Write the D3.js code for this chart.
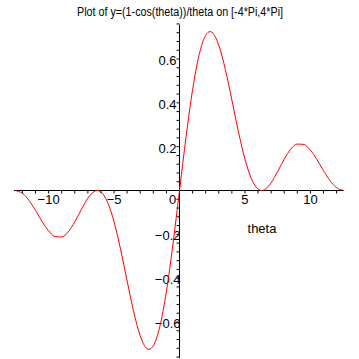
<!DOCTYPE html>
<html>
<head>
<meta charset="utf-8">
<script src="https://cdn.jsdelivr.net/npm/d3@7"></script>
<style>
  body { margin: 0; background: #fff; }
  text { font-family: "Liberation Sans Narrow", "Liberation Sans", Arial, sans-serif; fill: #000; }
</style>
</head>
<body>
<div class="box"></div>
<script>
const titleText = "Plot of y=(1-cos(theta))/theta on [-4*Pi,4*Pi]"
const xAxisLabel = "theta"

// values
const thetas = [-12.566, -12, -11.5, -11, -10.5, -10, -9.5, -9, -8.5, -8, -7.5, -7, -6.5, -6.28, -6, -5.5, -5, -4.5, -4, -3.5, -3, -2.5, -2.33, -2, -1.5, -1, -0.5, -0.25,
                0, 0.25, 0.5, 1, 1.5, 2, 2.33, 2.5, 3, 3.5, 4, 4.5, 5, 5.5, 6, 6.28, 6.5, 7, 7.5, 8, 8.5, 9, 9.5, 10, 10.5, 11, 11.5, 12, 12.566]
const yValues = [0, -0.013, -0.045, -0.091, -0.141, -0.184, -0.210, -0.212, -0.189, -0.143, -0.087, -0.035, -0.004, 0, -0.007, -0.053, -0.143, -0.269, -0.413, -0.553, -0.663, -0.721, -0.725, -0.708, -0.620, -0.460, -0.245, -0.124,
                 0, 0.124, 0.245, 0.460, 0.620, 0.708, 0.725, 0.721, 0.663, 0.553, 0.413, 0.269, 0.143, 0.053, 0.007, 0, 0.004, 0.035, 0.087, 0.143, 0.189, 0.212, 0.210, 0.184, 0.141, 0.091, 0.045, 0.013, 0]

const xMinorTicks = d3.range(-12, 13, 1)
const xLabels = [-10, -5, 5, 10]
const yMinorTicks = d3.range(-0.76, 0.77, 0.04)
const yLabels = [-0.6, -0.4, -0.2, 0.2, 0.4, 0.6]

const boxWidth = 359
const boxHeight = 359

const x = d3.scaleLinear().domain([-4 * Math.PI, 4 * Math.PI]).range([15, 344])
const y = d3.scaleLinear().domain([-0.7246, 0.7246]).range([349.3, 31.7])

const svg = d3.select('.box')
              .append('svg')
              .attr('width', boxWidth)
              .attr('height', boxHeight)

// title
svg.append('text')
   .attr('x', 180)
   .attr('y', 16)
   .attr('text-anchor', 'middle')
   .attr('textLength', 206)
   .attr('lengthAdjust', 'spacingAndGlyphs')
   .style('font-size', '12px')
   .text(titleText)

// axis lines
svg.append('line')
   .attr('x1', x(-4 * Math.PI) - 1).attr('x2', x(4 * Math.PI))
   .attr('y1', y(0)).attr('y2', y(0))
   .attr('stroke', '#000')
svg.append('line')
   .attr('x1', x(0)).attr('x2', x(0))
   .attr('y1', y(0.757)).attr('y2', y(-0.765))
   .attr('stroke', '#000')

// x ticks
svg.selectAll('.xt')
   .data(xMinorTicks).enter()
   .append('line')
   .attr('x1', d => x(d)).attr('x2', d => x(d))
   .attr('y1', y(0)).attr('y2', y(0) + 3)
   .attr('stroke', '#000')

svg.selectAll('.xl')
   .data(xLabels).enter()
   .append('text')
   .attr('x', d => x(d))
   .attr('y', y(0) + 13)
   .attr('text-anchor', 'middle')
   .style('font-size', '13px')
   .text(d => d < 0 ? '\u2212' + Math.abs(d) : d)

svg.append('text')
   .attr('x', x(0) - 7)
   .attr('y', y(0) + 13)
   .attr('text-anchor', 'middle')
   .style('font-size', '13px')
   .text('0')

// y ticks
svg.selectAll('.yt')
   .data(yMinorTicks).enter()
   .append('line')
   .attr('x1', x(0) - 3).attr('x2', x(0))
   .attr('y1', d => y(d)).attr('y2', d => y(d))
   .attr('stroke', '#000')

svg.selectAll('.yl')
   .data(yLabels).enter()
   .append('text')
   .attr('x', d => d < 0 ? x(0) + 1 : x(0) - 3)
   .attr('y', d => y(d) + 6)
   .attr('text-anchor', 'end')
   .style('font-size', '13px')
   .text(d => d < 0 ? '\u2212' + Math.abs(d) : d)

svg.append('text')
   .attr('x', 262)
   .attr('y', 233)
   .attr('text-anchor', 'middle')
   .style('font-size', '13px')
   .text(xAxisLabel)

// curve
const line = d3.line()
               .x((d, i) => x(thetas[i]))
               .y(d => y(d))
               .curve(d3.curveMonotoneX)

svg.append('path')
   .attr('d', line(yValues))
   .attr('fill', 'none')
   .attr('stroke', '#ff0000')
   .attr('stroke-width', 1)
</script>
</body>
</html>
